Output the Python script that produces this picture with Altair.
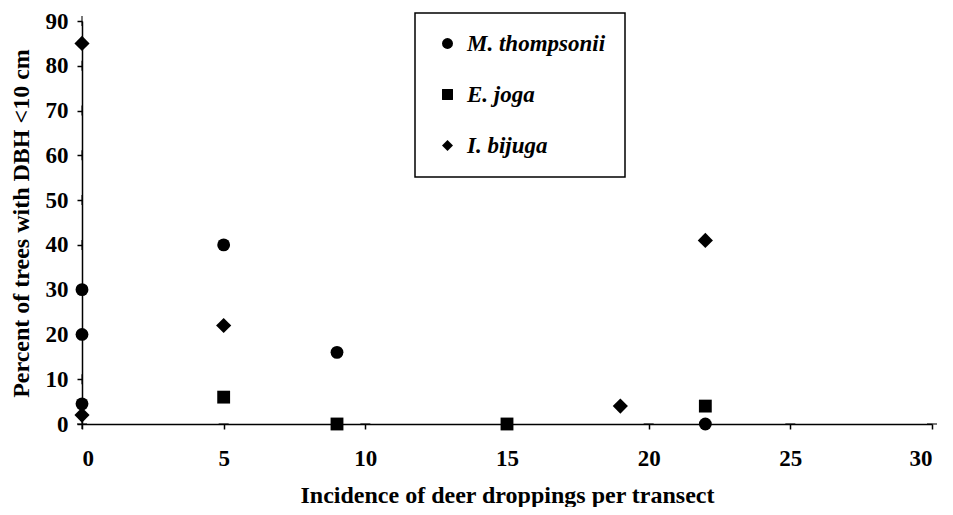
import altair as alt
import pandas as pd

species = ["M. thompsonii", "E. joga", "I. bijuga"]
shapes = ["circle", "square", "diamond"]

m_x = [0, 0, 0, 5, 9, 22]
m_y = [30, 20, 4.5, 40, 16, 0]
e_x = [5, 9, 15, 22]
e_y = [6, 0, 0, 4]
i_x = [0, 0, 5, 19, 22]
i_y = [85, 2, 22, 4, 41]

x_ticks = [0, 5, 10, 15, 20, 25, 30]
y_ticks = [0, 10, 20, 30, 40, 50, 60, 70, 80, 90]

x_title = "Incidence of deer droppings per transect"
y_title = "Percent of trees with DBH <10 cm"

rows = []
for name, xs, ys in zip(species, [m_x, e_x, i_x], [m_y, e_y, i_y]):
    for a, b in zip(xs, ys):
        rows.append({"species": name, "x": a, "y": b})
df = pd.DataFrame(rows)

ytick_df = pd.DataFrame({"x": [0] * len(y_ticks), "y": y_ticks})
xtick_df = pd.DataFrame({"x": x_ticks, "y": [0] * len(x_ticks)})

FONT = "Liberation Serif"
x_scale = alt.Scale(domain=[0, 30], nice=False, zero=False)
y_scale = alt.Scale(domain=[0, 90], nice=False, zero=False)

x_enc = alt.X("x:Q", scale=x_scale,
              axis=alt.Axis(values=x_ticks, title=x_title, tickSize=5, labelPadding=18,
                            titleY=78, titleBaseline="alphabetic"))
y_enc = alt.Y("y:Q", scale=y_scale,
              axis=alt.Axis(values=y_ticks, title=y_title, tickSize=5, labelPadding=9,
                            titleX=-54, titleY=202, titleAngle=270, titleAlign="center",
                            titleBaseline="alphabetic"))
shape_enc = alt.Shape("species:N",
                      scale=alt.Scale(domain=species, range=shapes),
                      legend=alt.Legend(orient="none", legendX=333, legendY=-8, title=None,
                                        strokeColor="black", fillColor="white",
                                        padding=19, rowPadding=27, symbolSize=120,
                                        symbolFillColor="black", symbolStrokeColor="black",
                                        symbolStrokeWidth=0, symbolOffset=2,
                                        labelFont=FONT, labelFontSize=23, labelFontStyle="italic",
                                        labelFontWeight="bold", labelColor="black", labelOffset=8,
                                        labelLimit=400,
                                        labelExpr="datum.label + '\u00a0\u00a0\u00a0\u00a0\u00a0'"))

base = alt.Chart(df)
round_pts = base.transform_filter(alt.datum.species != "I. bijuga").mark_point(
    filled=True, size=165, color="black", opacity=1).encode(x=x_enc, y=y_enc, shape=shape_enc)
diamond_pts = base.transform_filter(alt.datum.species == "I. bijuga").mark_point(
    filled=True, size=230, color="black", opacity=1).encode(x=x_enc, y=y_enc, shape=shape_enc)

yticks = alt.Chart(ytick_df).mark_tick(orient="vertical", size=10, thickness=1.5, color="black").encode(
    x=alt.X("x:Q", scale=x_scale), y=alt.Y("y:Q", scale=y_scale))
xticks = alt.Chart(xtick_df).mark_tick(orient="horizontal", size=10, thickness=1.5, color="black").encode(
    x=alt.X("x:Q", scale=x_scale), y=alt.Y("y:Q", scale=y_scale))

chart = alt.layer(yticks, xticks, round_pts, diamond_pts).properties(
    width=850, height=403,
    autosize=alt.AutoSizeParams(type="none"),
    padding={"left": 74, "top": 13, "right": 13, "bottom": 83},
).configure_view(stroke=None).configure_axis(
    grid=False, domainColor="black", domainWidth=1.5, tickColor="black", tickWidth=1.5,
    labelFont=FONT, labelFontWeight="bold", labelFontSize=23, labelColor="black",
    titleFont=FONT, titleFontWeight="bold", titleFontSize=24, titleColor="black",
).configure_legend(strokeWidth=1.5)

chart.save("out.html", embed_options={"renderer": "svg", "actions": False})
